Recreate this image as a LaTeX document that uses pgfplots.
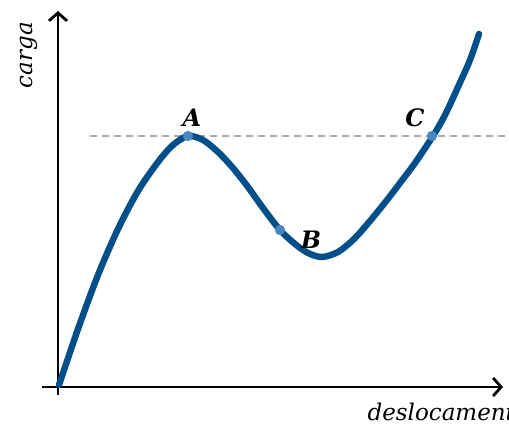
\documentclass[border=0pt]{standalone}
\usepackage{pgfplots}
\pgfplotsset{compat=1.18}
\usepackage{fontspec}
\setmainfont{DejaVu Serif}
\usetikzlibrary{arrows.meta}
\definecolor{curve}{HTML}{004E8A}
\definecolor{pt}{HTML}{4A86BE}
\begin{document}
\begin{tikzpicture}
\begin{axis}[
  anchor=south west, at={(0,0)},
  width=509pt, height=428pt, scale only axis,
  xmin=0, xmax=509, ymin=0, ymax=428,
  hide axis, clip=false,
]
% axes
\addplot[black, line width=2.8pt, -{Straight Barb[length=8pt,width=18pt,line width=2.8pt]}] coordinates {(42,41) (503,41)};
\addplot[black, line width=2.8pt, -{Straight Barb[length=8pt,width=18pt,line width=2.8pt]}] coordinates {(58,33) (58,417)};
% dashed reference
\addplot[color=black!33, line width=1.5pt, dash pattern=on 7pt off 5pt] coordinates {(90,292) (509,292)};
% curve
\addplot[curve, line width=6.4pt, smooth, line cap=round, line join=round] coordinates {
(59,43) (78,99) (98,153) (118,199) (138,237) (158,266) (173,283) (188,292)
(203,288) (218,276) (233,260) (248,241) (263,220) (280,198) (295,184) (308,175) (322,171)
(338,176) (354,189) (370,207) (387,228) (400,245) (415,265) (433,292)
(445,313) (458,341) (470,368) (479,394)};
% points
\addplot[only marks, mark=*, mark size=4.9pt, color=pt] coordinates {(188,292) (280,198) (432,292)};
\node[font=\fontsize{23}{25}\selectfont\itshape, rotate=90] at (axis cs:29,373) {carga};
\node[font=\fontsize{23}{25}\selectfont\itshape, anchor=base west] at (axis cs:364,7) {deslocamento};
\node[font=\fontsize{24}{26}\selectfont\bfseries\itshape] at (axis cs:192,310) {A};
\node[font=\fontsize{24}{26}\selectfont\bfseries\itshape] at (axis cs:311,188) {B};
\node[font=\fontsize{24}{26}\selectfont\bfseries\itshape] at (axis cs:415,310) {C};
\end{axis}
\pgfresetboundingbox
\useasboundingbox (0,0) rectangle (509pt,428pt);
\end{tikzpicture}
\end{document}
